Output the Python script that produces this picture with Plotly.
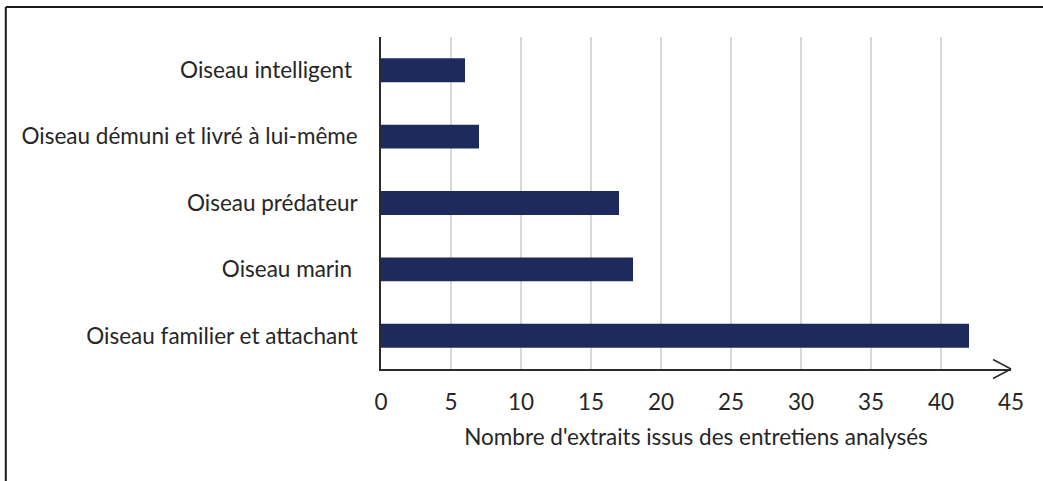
import plotly.graph_objects as go

# Categories, bottom to top as drawn on the y axis
categories = [
    "Oiseau familier et attachant",
    "Oiseau marin ",
    "Oiseau prédateur",
    "Oiseau démuni et livré à lui-même",
    "Oiseau intelligent ",
]
counts = [42, 18, 17, 7, 6]
x_ticks = [0, 5, 10, 15, 20, 25, 30, 35, 40, 45]
x_title = "Nombre d'extraits issus des entretiens analysés"

BAR_COLOR = "#1f2a5c"
TEXT_COLOR = "#262626"
FONT = "Lato"
FS = 22.5

W, H = 1043, 481
L, R, T, B = 380.5, 32, 37, 112

fig = go.Figure(
    go.Bar(
        x=counts,
        y=list(range(len(categories))),
        orientation="h",
        marker=dict(color=BAR_COLOR, line=dict(width=0)),
        width=0.36,
        hoverinfo="x+y",
    )
)

fig.update_xaxes(
    range=[0, 45],
    tickvals=x_ticks,
    ticktext=[str(v) for v in x_ticks],
    showgrid=True,
    gridcolor="#d9d9d9",
    gridwidth=1.5,
    showline=True,
    linecolor="#2b2b2b",
    linewidth=1.5,
    zeroline=False,
    ticks="",
    ticklabelstandoff=12,
    tickfont=dict(family=FONT, size=FS, color=TEXT_COLOR),
    title=dict(text=x_title, font=dict(family=FONT, size=FS, color=TEXT_COLOR), standoff=15),
    fixedrange=True,
)
fig.update_yaxes(
    range=[-0.5, len(categories) - 0.5],
    tickvals=list(range(len(categories))),
    ticktext=[c.replace(" ", "\u00a0") if c.endswith(" ") else c for c in categories],
    showgrid=False,
    showline=True,
    linecolor="#2b2b2b",
    linewidth=1.5,
    zeroline=False,
    ticks="",
    ticklabelstandoff=17,
    tickfont=dict(family=FONT, size=FS, color=TEXT_COLOR),
    fixedrange=True,
)

pw = W - L - R
ph = H - T - B

shapes = []
# arrow head at the end of the x axis
for dy in (9.5, -9.5):
    shapes.append(dict(
        type="line", xref="paper", yref="paper",
        xsizemode="pixel", ysizemode="pixel", xanchor=1, yanchor=0,
        x0=-18, x1=0, y0=dy, y1=0,
        line=dict(color="#2b2b2b", width=1.5),
    ))
# outer frame (top and left edges)
fx = (5 - L) / pw
fy = (H - B - 7) / ph
shapes.append(dict(type="line", xref="paper", yref="paper",
                   x0=fx, x1=(W + 10 - L) / pw, y0=fy, y1=fy,
                   line=dict(color="#1a1a1a", width=2)))
shapes.append(dict(type="line", xref="paper", yref="paper",
                   x0=fx, x1=fx, y0=fy, y1=-(B + 10) / ph,
                   line=dict(color="#1a1a1a", width=2)))

fig.update_layout(
    width=W, height=H,
    margin=dict(l=L, r=R, t=T, b=B),
    plot_bgcolor="white",
    paper_bgcolor="white",
    showlegend=False,
    bargap=0.64,
    shapes=shapes,
    font=dict(family=FONT, color=TEXT_COLOR),
)

fig.write_html("out.html", config={"displayModeBar": False})
